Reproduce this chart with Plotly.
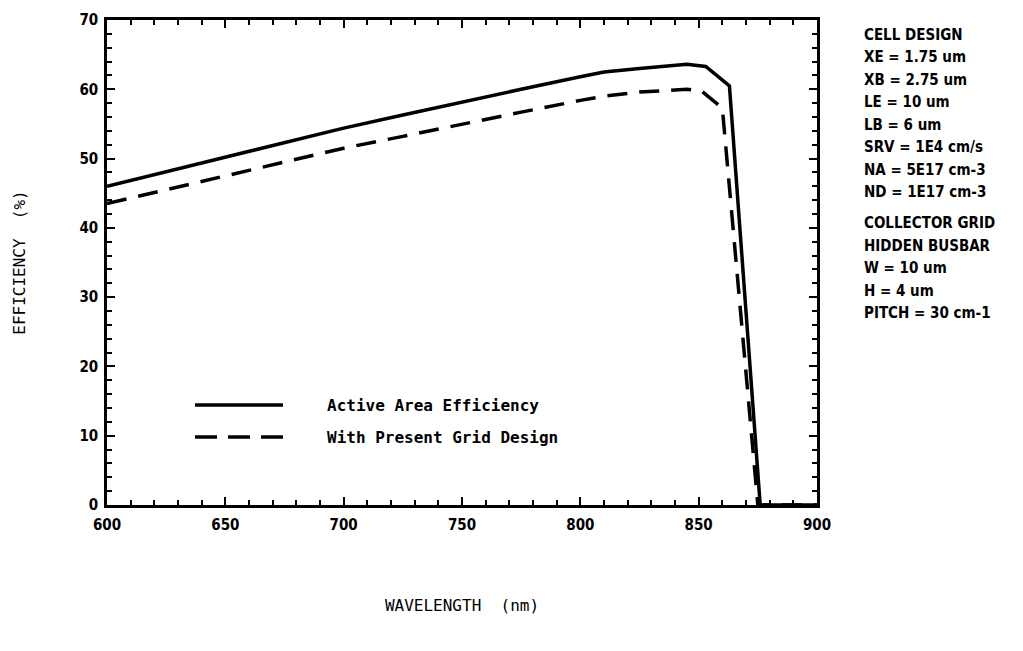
import plotly.graph_objects as go

# ---- data ----
wl_active = [600, 625, 650, 675, 700, 725, 750, 775, 800, 810, 825, 845, 853, 863, 876, 900]
eff_active = [46.0, 48.1, 50.2, 52.3, 54.4, 56.3, 58.2, 60.0, 61.8, 62.5, 63.0, 63.6, 63.3, 60.5, 0.0, 0.0]

wl_grid = [600, 625, 650, 675, 700, 725, 750, 775, 800, 810, 825, 845, 851, 860, 875, 900]
eff_grid = [43.5, 45.5, 47.5, 49.5, 51.5, 53.2, 55.0, 56.7, 58.4, 59.0, 59.6, 60.0, 59.8, 57.3, 0.0, 0.0]

legend_labels = ["Active Area Efficiency", "With Present Grid Design"]
design_lines = ["CELL DESIGN", "XE = 1.75 um", "XB = 2.75 um", "LE = 10 um", "LB = 6 um",
                "SRV = 1E4 cm/s", "NA = 5E17 cm-3", "ND = 1E17 cm-3"]
grid_lines = ["COLLECTOR GRID", "HIDDEN BUSBAR", "W = 10 um", "H = 4 um", "PITCH = 30 cm-1"]

W, H = 1023, 651
ML, MR, MT, MB = 107, 206, 20, 146
PW, PH = W - ML - MR, H - MT - MB

def px(x):
    return (x - ML) / PW

def py(y):
    return (H - MB - y) / PH

fig = go.Figure()
fig.add_trace(go.Scatter(x=wl_active, y=eff_active, mode="lines",
                         line=dict(color="black", width=3.5), showlegend=False))
fig.add_trace(go.Scatter(x=wl_grid, y=eff_grid, mode="lines",
                         line=dict(color="black", width=3.5, dash="20px,12px"), showlegend=False))

tickfont = dict(family="DejaVu Sans Condensed", size=15, color="black", weight="bold")
axcommon = dict(showline=True, linecolor="black", linewidth=2.5, mirror="allticks",
                ticks="inside", ticklen=8, tickwidth=2, tickcolor="black",
                showgrid=False, zeroline=False, tickfont=tickfont)

fig.update_xaxes(range=[600, 900], dtick=50, tick0=600, ticklabelstandoff=4,
                 minor=dict(dtick=10, ticks="inside", ticklen=5, tickwidth=2, tickcolor="black"),
                 title=dict(text="WAVELENGTH  (nm)", font=dict(family="DejaVu Sans Mono", size=16, color="black"),
                            standoff=68),
                 **axcommon)
fig.update_yaxes(range=[0, 70], dtick=10, tick0=0, ticklabelstandoff=3,
                 minor=dict(dtick=2, ticks="inside", ticklen=5, tickwidth=2, tickcolor="black"),
                 title=dict(text="EFFICIENCY  (%)", font=dict(family="DejaVu Sans Mono", size=16, color="black"),
                            standoff=50),
                 **axcommon)

# legend (drawn inside the plot)
shapes = []
shapes.append(dict(type="line", xref="paper", yref="paper", x0=px(195), x1=px(283), y0=py(405), y1=py(405),
                   line=dict(color="black", width=3.5)))
shapes.append(dict(type="line", xref="paper", yref="paper", x0=px(195), x1=px(283), y0=py(437), y1=py(437),
                   line=dict(color="black", width=3.5, dash="22px,11px")))

annotations = []
txtfont = dict(family="DejaVu Sans Mono", size=16, color="black", weight="bold")
for lab, yy in zip(legend_labels, [405, 437]):
    annotations.append(dict(text=lab, xref="paper", yref="paper", x=px(325), y=py(yy),
                            xanchor="left", yanchor="middle", showarrow=False, font=txtfont))

sidefont = dict(family="DejaVu Sans Condensed", size=15, color="black", weight="bold")
y0 = 35
for i, t in enumerate(design_lines):
    annotations.append(dict(text=t, xref="paper", yref="paper", x=px(862), y=py(y0 + i * 22.5),
                            xanchor="left", yanchor="middle", showarrow=False, font=sidefont))
y1 = 223
for i, t in enumerate(grid_lines):
    annotations.append(dict(text=t, xref="paper", yref="paper", x=px(862), y=py(y1 + i * 22.5),
                            xanchor="left", yanchor="middle", showarrow=False, font=sidefont))

fig.update_layout(width=W, height=H, margin=dict(l=ML, r=MR, t=MT, b=MB),
                  paper_bgcolor="white", plot_bgcolor="white",
                  shapes=shapes, annotations=annotations, showlegend=False)

fig.write_html("out.html")
